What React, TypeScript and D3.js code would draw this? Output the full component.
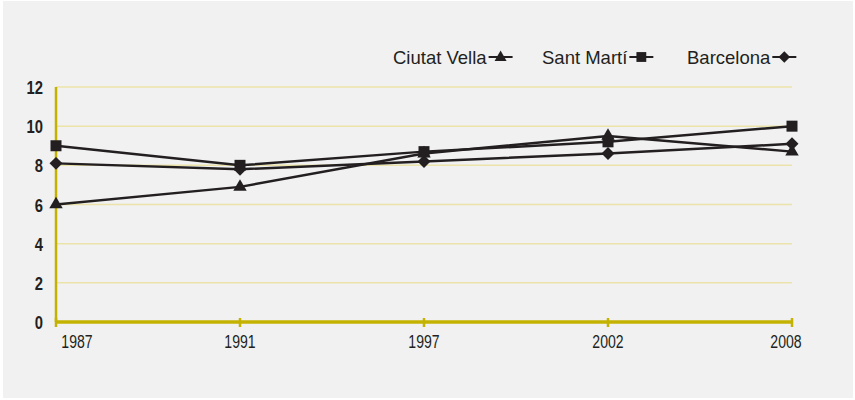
import { useEffect, useRef } from 'react';
import * as d3 from 'd3';

const years = ['1987', '1991', '1997', '2002', '2008'];
const yTicks = [0, 2, 4, 6, 8, 10, 12];
const ciutatVella = [6.0, 6.9, 8.6, 9.5, 8.7];
const santMarti = [9.0, 8.0, 8.7, 9.2, 10.0];
const barcelona = [8.1, 7.8, 8.2, 8.6, 9.1];
const seriesNames = ['Ciutat Vella', 'Sant Martí', 'Barcelona'];

const width = 855;
const height = 400;
const axisColor = '#c4b200';
const gridColor = '#ebe3a9';
const ink = '#231f20';
const narrow = '"Liberation Sans", Arial, sans-serif';

const symbolFor = (name: string, small = false) => {
  const k = small ? 0.8 : 1;
  if (name === 'Ciutat Vella') return { path: d3.symbol(d3.symbolTriangle, 78 * k)(), rot: 0 };
  if (name === 'Sant Martí') return { path: d3.symbol(d3.symbolSquare, 121 * k)(), rot: 0 };
  return { path: d3.symbol(d3.symbolSquare, 84 * k)(), rot: 45 };
};

const App = () => {
  const ref = useRef(null);

  useEffect(() => {
    if (!ref.current) return;
    const svg = d3.select(ref.current);
    svg.selectAll('*').remove();
    svg.attr('width', width).attr('height', height);

    svg.append('rect').attr('width', width).attr('height', height).attr('fill', '#ffffff');
    svg.append('rect').attr('x', 3).attr('y', 1).attr('width', 850).attr('height', 397).attr('fill', '#f1f1f1');

    const x = d3.scalePoint().domain(years).range([56, 792]);
    const y = d3.scaleLinear().domain([0, 12]).range([322, 87]);

    // gridlines
    svg
      .append('g')
      .selectAll('line')
      .data(yTicks.filter((t) => t > 0))
      .enter()
      .append('line')
      .attr('x1', 56)
      .attr('x2', 792)
      .attr('y1', (d) => y(d))
      .attr('y2', (d) => y(d))
      .attr('stroke', gridColor)
      .attr('stroke-width', 1.5);

    // y axis
    svg
      .append('line')
      .attr('x1', 56)
      .attr('x2', 56)
      .attr('y1', y(12))
      .attr('y2', y(0))
      .attr('stroke', axisColor)
      .attr('stroke-width', 2.5);

    svg
      .append('g')
      .selectAll('text')
      .data(yTicks)
      .enter()
      .append('text')
      .attr('transform', (d) => `translate(43,${y(d) + 7}) scale(0.8,1)`)
      .attr('text-anchor', 'end')
      .style('font-family', narrow)
      .style('font-weight', 'bold')
      .style('font-size', '18.5px')
      .attr('fill', ink)
      .text((d) => d);

    // x axis
    svg
      .append('line')
      .attr('x1', 55)
      .attr('x2', 793)
      .attr('y1', y(0))
      .attr('y2', y(0))
      .attr('stroke', axisColor)
      .attr('stroke-width', 3.5);

    svg
      .append('g')
      .selectAll('line')
      .data(years)
      .enter()
      .append('line')
      .attr('x1', (d) => x(d))
      .attr('x2', (d) => x(d))
      .attr('y1', y(0) - 4)
      .attr('y2', y(0) + 5)
      .attr('stroke', axisColor)
      .attr('stroke-width', 2.5);

    svg
      .append('g')
      .selectAll('text')
      .data(years)
      .enter()
      .append('text')
      .attr(
        'transform',
        (d, i) => `translate(${x(d) + (i === 0 ? 21 : i === years.length - 1 ? -6 : 0)},348) scale(0.76,1)`
      )
      .attr('text-anchor', 'middle')
      .style('font-family', narrow)
      .style('font-size', '18.5px')
      .attr('fill', ink)
      .text((d) => d);

    // series
    const all = [
      { name: 'Ciutat Vella', values: ciutatVella },
      { name: 'Barcelona', values: barcelona },
      { name: 'Sant Martí', values: santMarti },
    ];
    const line = d3
      .line<number>()
      .x((_, i) => x(years[i]))
      .y((d) => y(d));

    all.forEach((s) => {
      svg
        .append('path')
        .attr('d', line(s.values))
        .attr('fill', 'none')
        .attr('stroke', ink)
        .attr('stroke-width', 2.5);
    });
    all.forEach((s) => {
      const sym = symbolFor(s.name);
      svg
        .append('g')
        .selectAll('path')
        .data(s.values)
        .enter()
        .append('path')
        .attr('d', sym.path)
        .attr('transform', (d, i) => `translate(${x(years[i])},${y(d)}) rotate(${sym.rot})`)
        .attr('fill', ink);
    });

    // legend
    const legendX = [393, 542, 687];
    const legend = svg.append('g');
    seriesNames.forEach((name, i) => {
      const g = legend.append('g').attr('transform', `translate(${legendX[i]},57)`);
      const t = g
        .append('text')
        .attr('x', 0)
        .attr('y', 7)
        .style('font-family', narrow)
        .style('font-size', '18.5px')
        .attr('fill', ink)
        .text(name);
      const w = (t.node() as SVGTextElement).getComputedTextLength();
      g.append('line')
        .attr('x1', w + 2)
        .attr('x2', w + 26)
        .attr('y1', 0)
        .attr('y2', 0)
        .attr('stroke', ink)
        .attr('stroke-width', 2);
      const sym = symbolFor(name, true);
      g.append('path')
        .attr('d', sym.path)
        .attr('transform', `translate(${w + 14},${name === 'Ciutat Vella' ? 0.5 : 0}) rotate(${sym.rot})`)
        .attr('fill', ink);
    });
  }, []);

  return (
    <div style={{ position: 'absolute', left: 0, top: 0 }}>
      <svg ref={ref} style={{ display: 'block' }} />
    </div>
  );
};

export default App;
